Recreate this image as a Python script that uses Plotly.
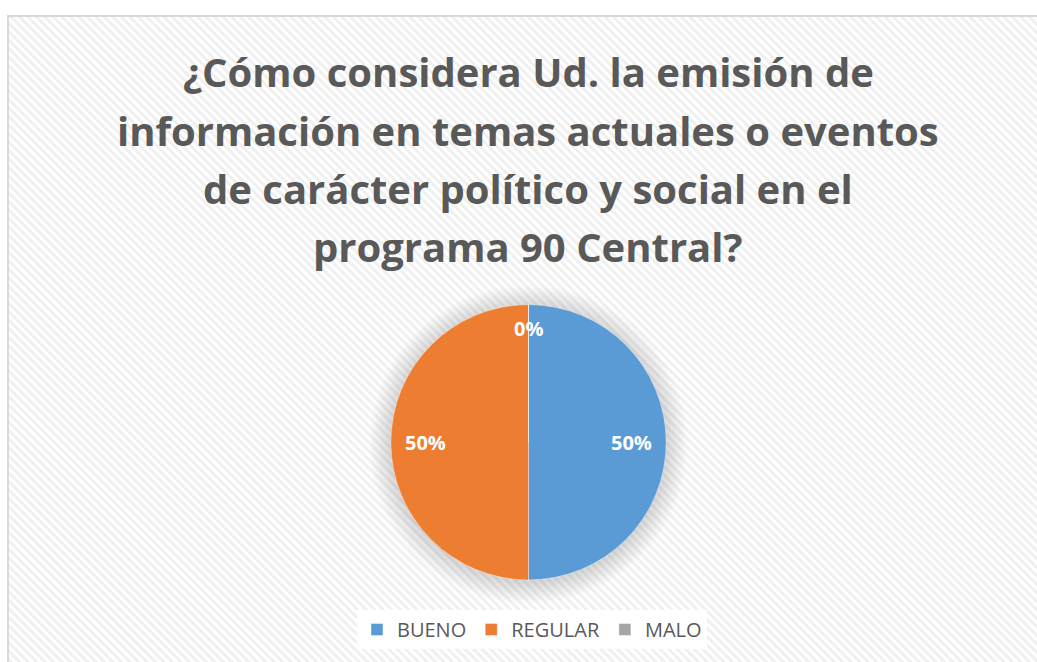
import base64
import math
import plotly.graph_objects as go

# ---- data ----
categories = ["BUENO", "REGULAR", "MALO"]
values = [50, 50, 0]
colors = ["#5B9BD5", "#ED7D31", "#A5A5A5"]
title_lines = [
    "¿Cómo considera Ud. la emisión de",
    "información en temas actuales o eventos",
    "de carácter político y social en el",
    "programa 90 Central?",
]

W, H = 1037, 662
CX, CY, R = 528.5, 442.3, 137.7  # pie center / radius in figure px

# ---- background (hatched chart area) ----
BX, BY = 8, 16
bw, bh = W - BX, H - BY
svg = f'''<svg xmlns="http://www.w3.org/2000/svg" width="{bw}" height="{bh}">
<defs>
<pattern id="p" patternUnits="userSpaceOnUse" width="6" height="6" patternTransform="rotate(-45)">
<rect width="6" height="6" fill="#ffffff"/><rect width="3" height="6" fill="#f0f0f0"/>
</pattern>
<radialGradient id="g" cx="0.5" cy="0.5" r="0.5">
<stop offset="0.86" stop-color="#000" stop-opacity="0.15"/>
<stop offset="1" stop-color="#000" stop-opacity="0"/>
</radialGradient>
</defs>
<rect width="{bw}" height="{bh}" fill="url(#p)"/>
<circle cx="{CX-BX}" cy="{CY-BY+2}" r="{R*1.16}" fill="url(#g)"/>
</svg>'''
src = "data:image/svg+xml;base64," + base64.b64encode(svg.encode()).decode()

fig = go.Figure()
fig.add_trace(go.Pie(
    labels=categories,
    values=values,
    marker=dict(colors=colors, line=dict(color="rgba(255,255,255,0.5)", width=0.8)),
    sort=False,
    direction="clockwise",
    rotation=0,
    textinfo="none",
    hoverinfo="label+percent",
    domain=dict(x=[(CX - R) / W, (CX + R) / W], y=[(H - CY - R) / H, (H - CY + R) / H]),
    showlegend=True,
))

# percentage labels placed from the slice angles
annotations = []
total = sum(values)
cum = 0
for v in values:
    mid = (cum + v / 2) / total * 2 * math.pi
    cum += v
    rf = 0.75 if v > 0 else 0.83
    px = CX + rf * R * math.sin(mid)
    py = CY - rf * R * math.cos(mid)
    annotations.append(dict(
        x=px / W, y=1 - py / H, xref="paper", yref="paper",
        text=f"<b>{round(v / total * 100)}%</b>", showarrow=False,
        font=dict(family="Open Sans", size=20, color="white"),
        xanchor="center", yanchor="middle",
    ))

for i, line in enumerate(title_lines):
    annotations.append(dict(
        x=528 / W, y=1 - (72 + 58 * i) / H, xref="paper", yref="paper",
        text=f"<b>{line}</b>", showarrow=False,
        font=dict(family="Open Sans", size=40, color="#595959"),
        xanchor="center", yanchor="middle",
    ))

fig.update_layout(
    width=W, height=H,
    margin=dict(l=0, r=0, t=0, b=0),
    paper_bgcolor="white",
    plot_bgcolor="white",
    images=[dict(source=src, xref="paper", yref="paper", x=BX / W, y=1 - BY / H,
                 sizex=bw / W, sizey=bh / H, sizing="stretch", layer="below",
                 xanchor="left", yanchor="top")],
    shapes=[dict(type="rect", xref="paper", yref="paper", x0=BX / W, y0=-0.05,
                 x1=1.05, y1=1 - BY / H, line=dict(color="#d9d9d9", width=2),
                 fillcolor="rgba(0,0,0,0)", layer="above")],
    annotations=annotations,
    legend=dict(orientation="h", x=532 / W, xanchor="center", y=1 - 610 / H, yanchor="top",
                bgcolor="white", font=dict(family="Open Sans", size=20, color="#595959"),
                traceorder="normal", itemclick=False),
)

fig.write_html(
    "out.html",
    config={"displayModeBar": False},
    post_script="document.body.style.margin='0px';document.body.style.overflow='hidden';",
)
